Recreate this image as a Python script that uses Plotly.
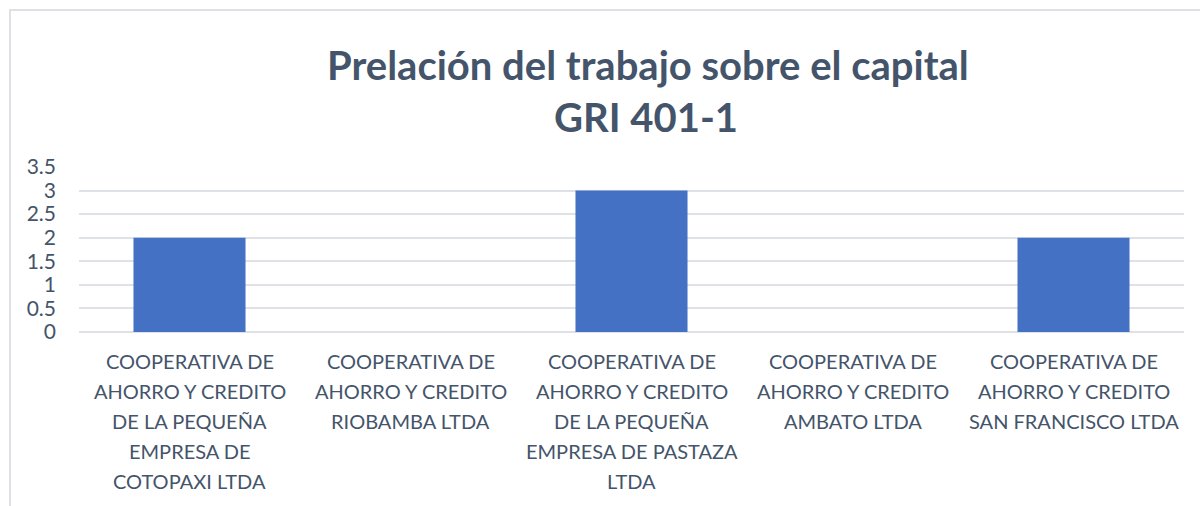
import plotly.graph_objects as go

categories = [
    "COOPERATIVA DE<br>AHORRO Y CREDITO<br>DE LA PEQUEÑA<br>EMPRESA DE<br>COTOPAXI LTDA",
    "COOPERATIVA DE<br>AHORRO Y CREDITO<br>RIOBAMBA LTDA",
    "COOPERATIVA DE<br>AHORRO Y CREDITO<br>DE LA PEQUEÑA<br>EMPRESA DE PASTAZA<br>LTDA",
    "COOPERATIVA DE<br>AHORRO Y CREDITO<br>AMBATO LTDA",
    "COOPERATIVA DE<br>AHORRO Y CREDITO<br>SAN FRANCISCO LTDA",
]
values = [2, 0, 3, 0, 2]
y_ticks = [0, 0.5, 1, 1.5, 2, 2.5, 3, 3.5]
y_tick_labels = ["0", "0.5", "1", "1.5", "2", "2.5", "3", "3.5"]
title_line1 = "Prelación del trabajo sobre el capital"
title_line2 = "GRI 401-1"

W, H = 1200, 506
L, R, T, B = 79, 16, 167, 174
PW = W - L - R
PH = H - T - B
TEXT = "#44546A"
GRID = "#DEE1E6"
LABEL_TOP = 361
LABEL_STEP = 30


def px_x(px):
    return (px - L) / PW


def px_y(py):
    return (H - B - py) / PH


fig = go.Figure(
    go.Bar(
        x=list(range(len(categories))),
        y=values,
        marker=dict(color="#4571C4", line=dict(width=0)),
        width=0.507,
        hoverinfo="skip",
    )
)

annotations = [
    dict(
        text="<b>" + title_line1 + "</b>",
        xref="paper", yref="paper",
        x=px_x(648), y=px_y(65),
        xanchor="center", yanchor="middle",
        showarrow=False,
        font=dict(family="Lato", size=40, color=TEXT),
    ),
    dict(
        text="<b>" + title_line2 + "</b>",
        xref="paper", yref="paper",
        x=px_x(646), y=px_y(117),
        xanchor="center", yanchor="middle",
        showarrow=False,
        font=dict(family="Lato", size=40, color=TEXT),
    ),
]
for i, cat in enumerate(categories):
    for k, line in enumerate(cat.split("<br>")):
        annotations.append(
            dict(
                text=line,
                xref="x", yref="paper",
                x=i, y=px_y(LABEL_TOP + LABEL_STEP * k),
                xanchor="center", yanchor="middle",
                showarrow=False,
                font=dict(family="Lato", size=20, color=TEXT),
            )
        )

fig.update_layout(
    width=W,
    height=H,
    margin=dict(l=L, r=R, t=T, b=B, pad=0),
    paper_bgcolor="white",
    plot_bgcolor="white",
    showlegend=False,
    font=dict(family="Lato", color=TEXT, size=20),
    xaxis=dict(
        range=[-0.5, len(categories) - 0.5],
        showgrid=False,
        zeroline=False,
        showline=False,
        showticklabels=False,
        ticks="",
        automargin=False,
    ),
    yaxis=dict(
        range=[0, 3.5],
        tickmode="array",
        tickvals=y_ticks,
        ticktext=y_tick_labels,
        showgrid=True,
        gridcolor=GRID,
        gridwidth=1.5,
        zeroline=True,
        zerolinecolor=GRID,
        zerolinewidth=1.5,
        showline=False,
        ticks="",
        ticklabelstandoff=22,
        tickfont=dict(family="Lato", size=21, color=TEXT),
        automargin=False,
    ),
    annotations=annotations,
    shapes=[
        dict(
            type="rect",
            xref="paper", yref="paper",
            x0=px_x(10), y0=px_y(10),
            x1=px_x(1250), y1=px_y(560),
            line=dict(color="#DDE0E5", width=2),
            fillcolor="rgba(0,0,0,0)",
            layer="below",
        )
    ],
)

fig.write_html(
    "out.html",
    config={"displayModeBar": False},
    post_script="document.body.style.margin='0';document.body.style.padding='0';",
)
